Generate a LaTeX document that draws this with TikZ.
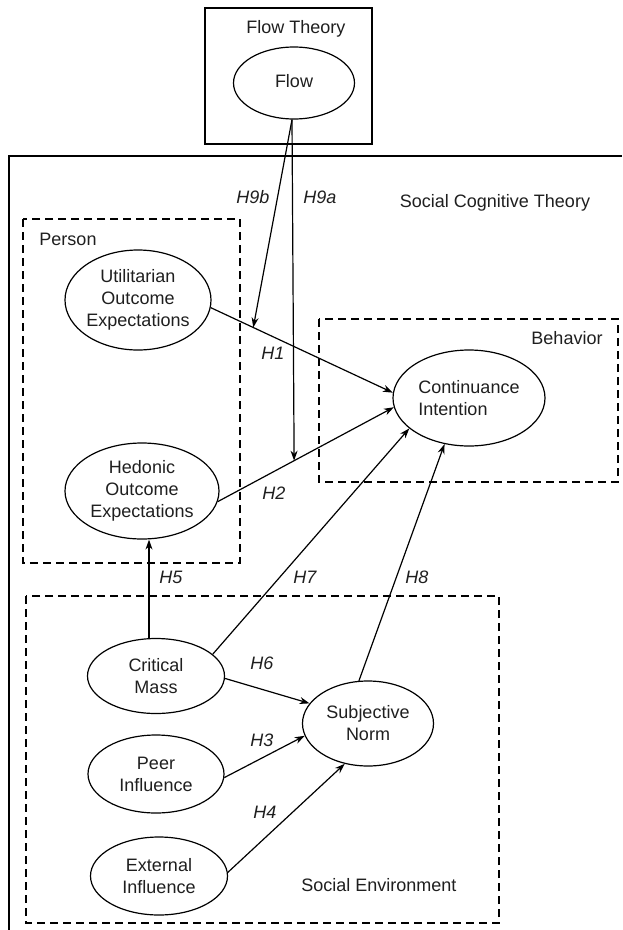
\documentclass[tikz,border=0pt]{standalone}
\usepackage{fontspec}
\setmainfont{Liberation Sans}
\usetikzlibrary{arrows.meta,calc,shapes.geometric}
\begin{document}
\begin{tikzpicture}[x=1pt,y=-1pt,
  every node/.style={font=\fontsize{18}{22}\selectfont, text=black!88},
  lat/.style={draw, line width=1.2pt, ellipse, inner sep=0pt, align=center},
  solidbox/.style={draw, line width=2pt},
  dbox/.style={draw, line width=1.9pt, dash pattern=on 8pt off 5pt},
  arr/.style={draw, line width=1.2pt, -{Stealth[length=10pt,width=7pt]}},
  hlab/.style={font=\fontsize{18}{22}\selectfont\itshape},
  plab/.style={}]
\useasboundingbox (0,0) rectangle (622,930);
\fill[white] (0,0) rectangle (622,930);

% boxes
\draw[solidbox] (205,8) rectangle (372,144);
\draw[solidbox] (9,930) -- (9,156) -- (622,156);
\draw[dbox] (23,219) rectangle (240,563);
\draw[dbox] (319,319) rectangle (618,482);
\draw[dbox] (26,596) rectangle (499,923);

% box labels
\node[plab] (tflow) at (296,29) {Flow Theory};
\node[plab] (tsct) at (495,203) {Social Cognitive Theory};
\node[plab] (tperson) at (68,239) {Person};
\node[plab] (tbeh) at (567,338) {Behavior};
\node[plab] (tse) at (379,885) {Social Environment};

% latent variables
\node[lat, minimum width=121pt, minimum height=72pt] (flow) at (294,83) {\raisebox{5pt}{Flow}};
\node[lat, minimum width=146pt, minimum height=100pt] (util) at (138,300) {Utilitarian\\Outcome\\Expectations};
\node[lat, minimum width=154pt, minimum height=96pt] (hed) at (142,491) {Hedonic\\Outcome\\Expectations};
\node[lat, minimum width=152pt, minimum height=96pt, align=left] (cont) at (469,398) {Continuance\\Intention};
\node[lat, minimum width=137pt, minimum height=75pt] (cm) at (156,676) {Critical\\Mass};
\node[lat, minimum width=131pt, minimum height=85pt] (sn) at (368,723.5) {Subjective\\Norm};
\node[lat, minimum width=136pt, minimum height=78pt] (peer) at (156,774) {Peer\\Influence};
\node[lat, minimum width=137pt, minimum height=78pt] (ext) at (159,876) {External\\Influence};

% main paths
\draw[arr] (util.-6) -- (cont.176);
\draw[arr] (hed.-8) -- (cont.187);
\draw[arr] ([xshift=-7pt]cm.north) -- ([xshift=7pt]hed.south);
\draw[arr] (cm.21) -- (cont.207);
\draw[arr] (sn.102) -- (cont.242);
\draw[arr] (cm.-2) -- (sn.161);
\draw[arr] (peer.-3) -- (sn.191);
\draw[arr] (ext.3) -- (sn.240);

% moderation paths
\coordinate (m9b) at ($(util.-6)!0.2335!(cont.176)$);
\coordinate (m9a) at ($(hed.-8)!0.434!(cont.187)$);
\draw[arr] ([xshift=-2pt]flow.south) -- (m9b);
\draw[arr] ([xshift=-2pt]flow.south) -- (m9a);

% path labels
\node[hlab] (l9b) at (253,197) {H9b};
\node[hlab] (l9a) at (320,197) {H9a};
\node[hlab] (l1) at (273,353) {H1};
\node[hlab] (l2) at (274,493) {H2};
\node[hlab] (l5) at (171,577) {H5};
\node[hlab] (l7) at (305,577) {H7};
\node[hlab] (l8) at (417,577) {H8};
\node[hlab] (l6) at (262,663) {H6};
\node[hlab] (l3) at (262,740) {H3};
\node[hlab] (l4) at (265,812) {H4};
\end{tikzpicture}
\end{document}
